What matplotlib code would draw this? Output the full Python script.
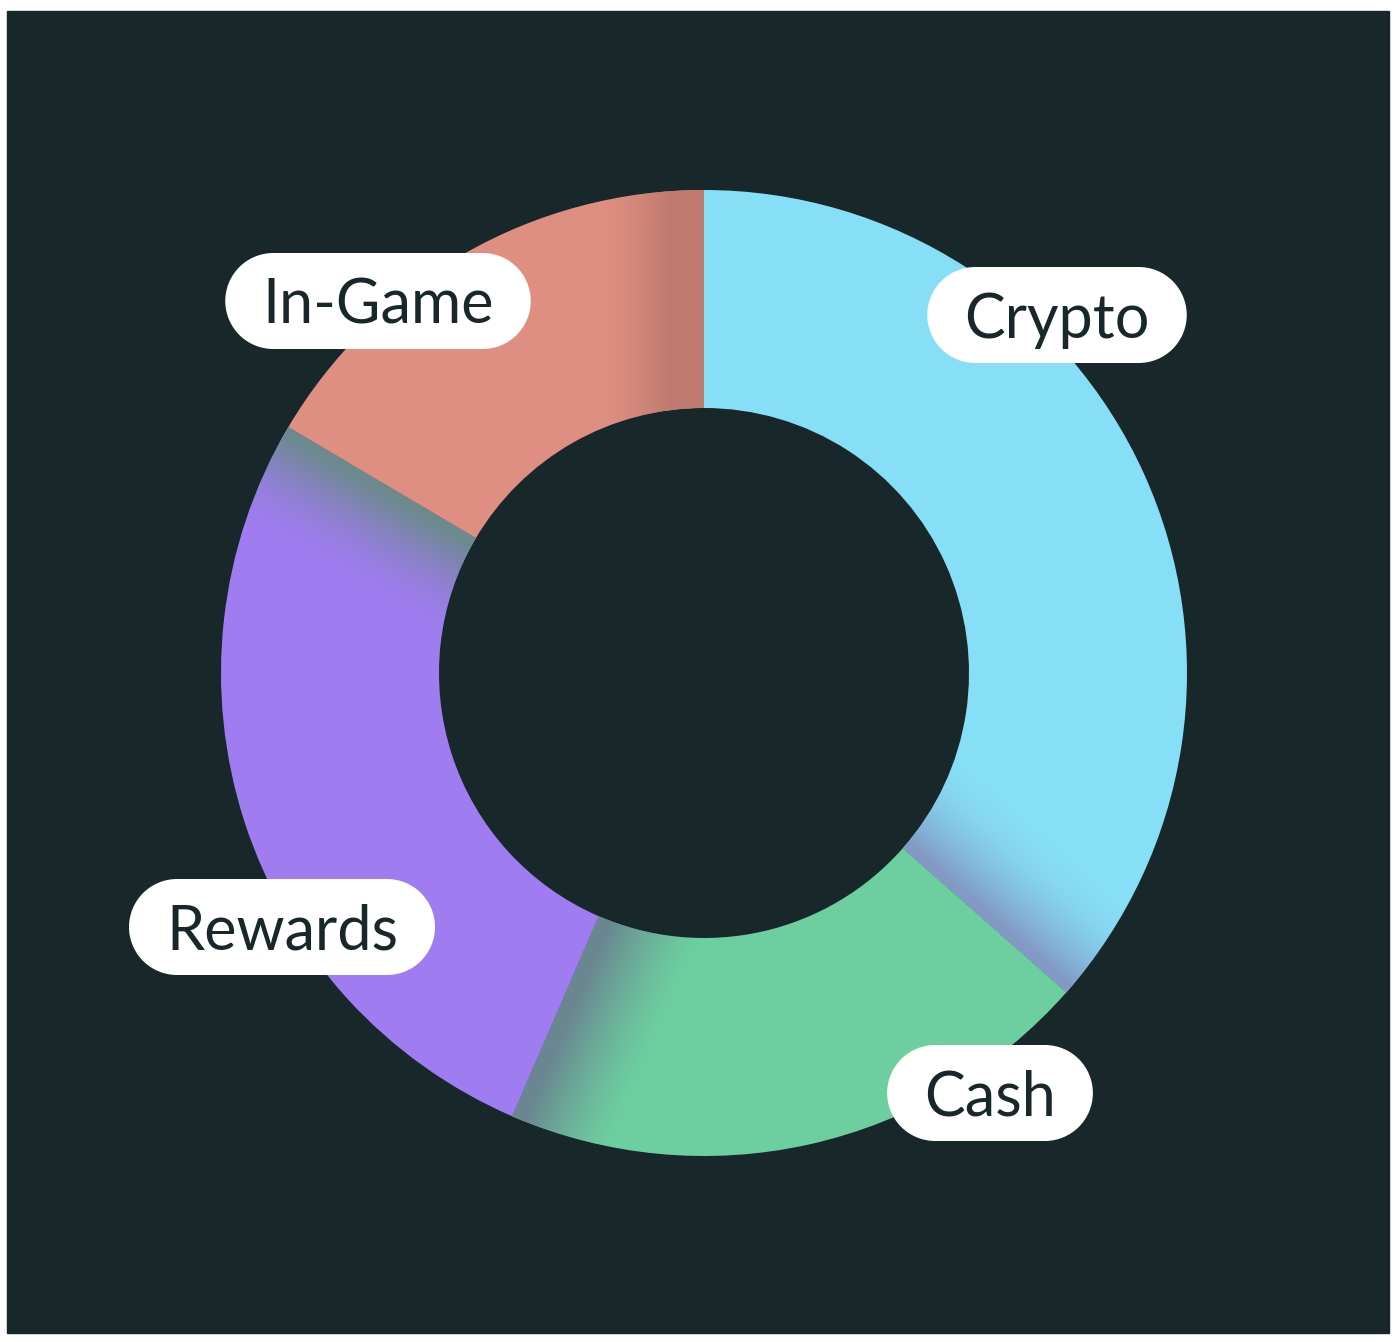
import numpy as np
import matplotlib
matplotlib.use('Agg')
import matplotlib.pyplot as plt
from matplotlib.patches import Rectangle, Circle
from matplotlib.colors import to_rgb

# share of each segment, clockwise from 12 o'clock
labels = ['Crypto', 'Cash', 'Rewards', 'In-Game']
shares = [36.5, 20.0, 27.0, 16.5]
colors = ['#87dff7', '#6dcfa0', '#9f7cf0', '#df8f82']
shade_colors = ['#8299c4', '#6a8791', '#6c8a8e', '#c07b70']
# label pill centres (pixels, y up)
label_pos = [(1057, 1027), (990, 249), (282, 415), (378, 1041)]

BG = '#182729'
W, H = 1400, 1342

fig = plt.figure(figsize=(W / 100, H / 100), dpi=100, facecolor='white')
ax = fig.add_axes([0, 0, 1, 1])
ax.add_patch(Rectangle((7, 9), 1382, 1322, color=BG, zorder=0))

cx, cy = 704, 669
R, ring = 483, 218
wedges, _ = ax.pie(shares, colors=colors, startangle=90, counterclock=False,
                   center=(cx, cy), radius=R,
                   wedgeprops=dict(width=ring, linewidth=0))
for w in wedges:
    w.set_zorder(2)

# soft shadow along the clockwise edge of every segment:
# linear gradient perpendicular to the radial boundary, clipped to the wedge
xx, yy = np.meshgrid(np.arange(W) + 0.5, np.arange(H) + 0.5)
for w, shade, solid, p in zip(wedges, shade_colors, [8, 14, 8, 35],
                              [1.8, 1.4, 1.7, 1.4]):
    a0 = np.deg2rad(w.theta1)
    d = -(xx - cx) * np.sin(a0) + (yy - cy) * np.cos(a0)
    fade_end = 105
    t = np.clip((fade_end - d) / (fade_end - solid), 0, 1) ** p
    t[d < 0] = 0
    rgba = np.zeros((H, W, 4))
    rgba[..., :3] = to_rgb(shade)
    rgba[..., 3] = t
    im = ax.imshow(rgba, extent=(0, W, 0, H), origin='lower',
                   aspect='auto', interpolation='bilinear', zorder=3)
    im.set_clip_path(w)

ax.set_xlim(0, W)
ax.set_ylim(0, H)
ax.axis('off')

fig.canvas.draw()
renderer = fig.canvas.get_renderer()
ph = 96
for name, (x, y) in zip(labels, label_pos):
    t = ax.text(x, y - 23, name, ha='center', va='baseline', fontsize=44,
                family=['Lato', 'DejaVu Sans'], color=BG, zorder=6)
    bb = t.get_window_extent(renderer)
    bw = bb.width + 74
    body = bw - ph
    ax.add_patch(Rectangle((x - body / 2, y - ph / 2), body, ph,
                           fc='white', ec='none', zorder=5))
    for sx in (-1, 1):
        ax.add_patch(Circle((x + sx * body / 2, y), ph / 2,
                            fc='white', ec='none', zorder=5))

fig.savefig('out.png', dpi=100, facecolor='white')
